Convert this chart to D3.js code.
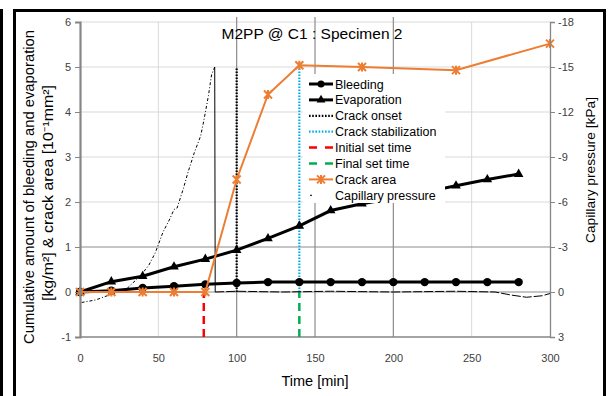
<!DOCTYPE html>
<html><head><meta charset="utf-8">
<script src="https://cdn.jsdelivr.net/npm/d3@7"></script>
<style>body{margin:0;background:#fff}svg{display:block}text{font-family:"Liberation Sans",Arial,sans-serif}</style>
</head><body>
<svg id="c" width="608" height="396"></svg>
<script>
// ---- data ----
const timeTicks = [0,50,100,150,200,250,300];
const leftTicks = [-1,0,1,2,3,4,5,6];
const rightTicks = [-18,-15,-12,-9,-6,-3,0,3];
const bleedT = [0,20,40,60,80,100,120,140,160,180,200,220,240,260,280];
const bleedV = [0,0.03,0.09,0.13,0.17,0.2,0.22,0.22,0.22,0.22,0.22,0.22,0.22,0.22,0.22];
const evapT = [0,20,40,60,80,100,120,140,160,180,200,220,240,260,280];
const evapV = [0,0.23,0.35,0.56,0.73,0.93,1.19,1.47,1.81,1.96,2.08,2.22,2.36,2.5,2.62];
const crackT = [0,20,40,60,80,100,120,140,180,240,300];
const crackV = [0,0,0,0,0,2.5,4.39,5.04,5.0,4.93,5.52];
const onsetT = 100, onsetRange = [0,5];
const stabT = 140, stabRange = [0,5];
const initSetT = 79, finalSetT = 140, setRange = [-1,0];
const capRiseT = [1,10,20,29,39,44,48,53,57,60,62,66,69,73,77,79,82,84,86];
const capRiseP = [0.7,0.53,0.15,-0.13,-1.13,-1.8,-2.6,-4.0,-4.8,-5.5,-5.6,-6.9,-8.0,-9.3,-10.4,-11.4,-13.1,-14.5,-15.0];
const capTailT = [86.3,100,130,160,200,240,265,275,285,295,300];
const capTailP = [0,-0.05,0,-0.05,0,-0.05,0,0.2,0.35,0.25,0.1];
const legendNames = ["Bleeding","Evaporation","Crack onset","Crack stabilization","Initial set time","Final set time","Crack area","Capillary pressure"];

// ---- chart ----
const svg = d3.select("#c");
const x = d3.scaleLinear().domain([0,300]).range([80,550]);
const y = d3.scaleLinear().domain([-1,6]).range([337,22]);
const y2 = d3.scaleLinear().domain([-18,3]).range([22,337]);
const ORANGE="#ED7D31", BLUE="#00B0F0", RED="#FF0000", GREEN="#00B050", GRID="#d9d9d9", DARK="#8c8c8c", AX="#868686", TXT="#404040";
const fmt = d => String(d);

// frame
svg.append("rect").attr("x",0).attr("y",9).attr("width",3).attr("height",387).attr("fill","#000");
svg.append("path").attr("d","M14.5,396 V10.5 H604.5 V396").attr("fill","none").attr("stroke","#000").attr("stroke-width",3);

const g = svg.append("g");
// light gridlines
leftTicks.filter(v=>v>=2).forEach(v=>g.append("line").attr("x1",x(0)).attr("x2",x(300)).attr("y1",y(v)).attr("y2",y(v)).attr("stroke",GRID).attr("stroke-width",1));
[50,250].forEach(t=>g.append("line").attr("x1",x(t)).attr("x2",x(t)).attr("y1",y(6)).attr("y2",y(-1)).attr("stroke",GRID).attr("stroke-width",1));
// darker lines
[100,150,200].forEach(t=>g.append("line").attr("x1",x(t)).attr("x2",x(t)).attr("y1",y(6)-5).attr("y2",y(-1)).attr("stroke",DARK).attr("stroke-width",1.2));
[1,0].forEach(v=>g.append("line").attr("x1",x(0)).attr("x2",x(300)).attr("y1",y(v)).attr("y2",y(v)).attr("stroke",DARK).attr("stroke-width",1.2));
// bottom line
g.append("line").attr("x1",x(0)).attr("x2",x(300)).attr("y1",y(-1)).attr("y2",y(-1)).attr("stroke",AX).attr("stroke-width",1.3);

// axes
const la = svg.append("g").attr("transform",`translate(${x(0)},0)`).call(d3.axisLeft(y).tickValues(leftTicks).tickSize(5).tickPadding(4).tickFormat(fmt));
la.select(".domain").attr("stroke",AX).attr("stroke-width",2.2);
la.selectAll(".tick line").attr("stroke",AX);
la.selectAll("text").attr("fill",TXT).style("font-size","11px").style("font-family","Liberation Sans, Arial");
const ra = svg.append("g").attr("transform",`translate(${x(300)},0)`).call(d3.axisRight(y2).tickValues(rightTicks).tickSize(5).tickPadding(3).tickFormat(fmt));
ra.select(".domain").attr("stroke",AX).attr("stroke-width",1.3);
ra.selectAll(".tick line").attr("stroke",AX);
ra.selectAll("text").attr("fill",TXT).style("font-size","11px").style("font-family","Liberation Sans, Arial");
const ba = svg.append("g").attr("transform",`translate(0,${y(-1)})`).call(d3.axisBottom(x).tickValues(timeTicks).tickSize(0).tickPadding(17).tickFormat(fmt));
ba.select(".domain").remove();
ba.selectAll("text").attr("fill",TXT).style("font-size","11px").style("font-family","Liberation Sans, Arial");

// vertical event lines
const vline = (t,r,sc,color,w,dash)=>g.append("line").attr("x1",x(t)).attr("x2",x(t)).attr("y1",sc(r[0])).attr("y2",sc(r[1])).attr("stroke",color).attr("stroke-width",w).attr("stroke-dasharray",dash);
vline(onsetT,onsetRange,y,"#000",2.2,"1.6,1.4");
vline(stabT,stabRange,y,BLUE,2.2,"1.6,1.4");
vline(initSetT,setRange,y,RED,2.5,"8,5");
vline(finalSetT,setRange,y,GREEN,2.5,"8,5");

// capillary pressure
const capRise = capRiseT.map((t,i)=>[t,capRiseP[i]]);
const capTail = capTailT.map((t,i)=>[t,capTailP[i]]);
const lc = d3.line().x(d=>x(d[0])).y(d=>y2(d[1]));
g.append("path").attr("d",lc(capRise)).attr("fill","none").attr("stroke","#000").attr("stroke-width",1).attr("stroke-dasharray","3,2,1,2");
g.append("path").attr("d",lc([capRise[capRise.length-1],capTail[0]])).attr("fill","none").attr("stroke","#000").attr("stroke-width",1);
g.append("path").attr("d",lc(capTail)).attr("fill","none").attr("stroke","#000").attr("stroke-width",1).attr("stroke-dasharray","9,2");

// bleeding / evaporation
const l1 = d3.line().x(d=>x(d[0])).y(d=>y(d[1]));
const bleed = bleedT.map((t,i)=>[t,bleedV[i]]);
const evap = evapT.map((t,i)=>[t,evapV[i]]);
const crack = crackT.map((t,i)=>[t,crackV[i]]);
g.append("path").attr("d",l1(evap)).attr("fill","none").attr("stroke","#000").attr("stroke-width",3);
g.append("path").attr("d",l1(bleed)).attr("fill","none").attr("stroke","#000").attr("stroke-width",3);
const tri = d3.symbol().type(d3.symbolTriangle).size(40);
g.selectAll(".ev").data(evap).join("path").attr("d",tri).attr("transform",d=>`translate(${x(d[0])},${y(d[1])})`).attr("fill","#000");
g.selectAll(".bl").data(bleed).join("circle").attr("cx",d=>x(d[0])).attr("cy",d=>y(d[1])).attr("r",4.2).attr("fill","#000");
// crack area
g.append("path").attr("d",l1(crack)).attr("fill","none").attr("stroke",ORANGE).attr("stroke-width",2);
const star = "M-4,-4L4,4M-4,4L4,-4M0,-4.5L0,4.5";
g.selectAll(".cr").data(crack).join("path").attr("d",star).attr("transform",d=>`translate(${x(d[0])},${y(d[1])})`).attr("stroke",ORANGE).attr("stroke-width",2).attr("fill","none");

// title
svg.append("text").attr("x",312).attr("y",39).attr("text-anchor","middle").attr("fill","#000").style("font-size","15.5px").text("M2PP @ C1 : Specimen 2");

// axis titles
svg.append("text").attr("transform","translate(34,187) rotate(-90)").attr("text-anchor","middle").attr("fill","#000").style("font-size","14px").attr("textLength",314).attr("lengthAdjust","spacingAndGlyphs").text("Cumulative amount of bleeding and evaporation");
svg.append("text").attr("transform","translate(53,193) rotate(-90)").attr("text-anchor","middle").attr("fill","#000").style("font-size","14px").attr("textLength",216).attr("lengthAdjust","spacingAndGlyphs").text("[kg/m²] & crack area [10⁻¹mm²]");
svg.append("text").attr("transform","translate(595,170) rotate(-90)").attr("text-anchor","middle").attr("fill","#000").style("font-size","13.5px").attr("textLength",146).attr("lengthAdjust","spacingAndGlyphs").text("Capillary pressure [kPa]");
svg.append("text").attr("x",315).attr("y",386).attr("text-anchor","middle").attr("fill","#000").style("font-size","14.5px").text("Time [min]");

// legend
const lg = svg.append("g");
lg.append("rect").attr("x",303).attr("y",74).attr("width",142).attr("height",129).attr("fill","#fff");
const ly0 = 84, ldy = 15.9, lx1 = 309, lx2 = 333;
legendNames.forEach((name,i)=>{
  const yy = ly0 + i*ldy;
  const row = lg.append("g");
  if(i===0||i===1){
    row.append("line").attr("x1",lx1).attr("x2",lx2).attr("y1",yy).attr("y2",yy).attr("stroke","#000").attr("stroke-width",3);
    if(i===0) row.append("circle").attr("cx",(lx1+lx2)/2).attr("cy",yy).attr("r",3.5).attr("fill","#000");
    else row.append("path").attr("d",d3.symbol().type(d3.symbolTriangle).size(34)).attr("transform",`translate(${(lx1+lx2)/2},${yy})`).attr("fill","#000");
  } else if(i===2||i===3){
    row.append("line").attr("x1",lx1).attr("x2",lx2).attr("y1",yy).attr("y2",yy).attr("stroke",i===2?"#000":BLUE).attr("stroke-width",2.2).attr("stroke-dasharray","1.6,1.6");
  } else if(i===4||i===5){
    row.append("line").attr("x1",lx1).attr("x2",lx2).attr("y1",yy).attr("y2",yy).attr("stroke",i===4?RED:GREEN).attr("stroke-width",2.5).attr("stroke-dasharray","8,8");
  } else if(i===6){
    row.append("line").attr("x1",lx1).attr("x2",lx2).attr("y1",yy).attr("y2",yy).attr("stroke",ORANGE).attr("stroke-width",2);
    row.append("path").attr("d",star).attr("transform",`translate(${(lx1+lx2)/2},${yy})`).attr("stroke",ORANGE).attr("stroke-width",2).attr("fill","none");
  } else {
    row.append("line").attr("x1",lx1+1).attr("x2",lx1+3).attr("y1",yy).attr("y2",yy).attr("stroke","#000").attr("stroke-width",1);
  }
  row.append("text").attr("x",335).attr("y",yy+4.5).attr("fill","#000").style("font-size","12.5px").text(name);
});
</script>
</body></html>
